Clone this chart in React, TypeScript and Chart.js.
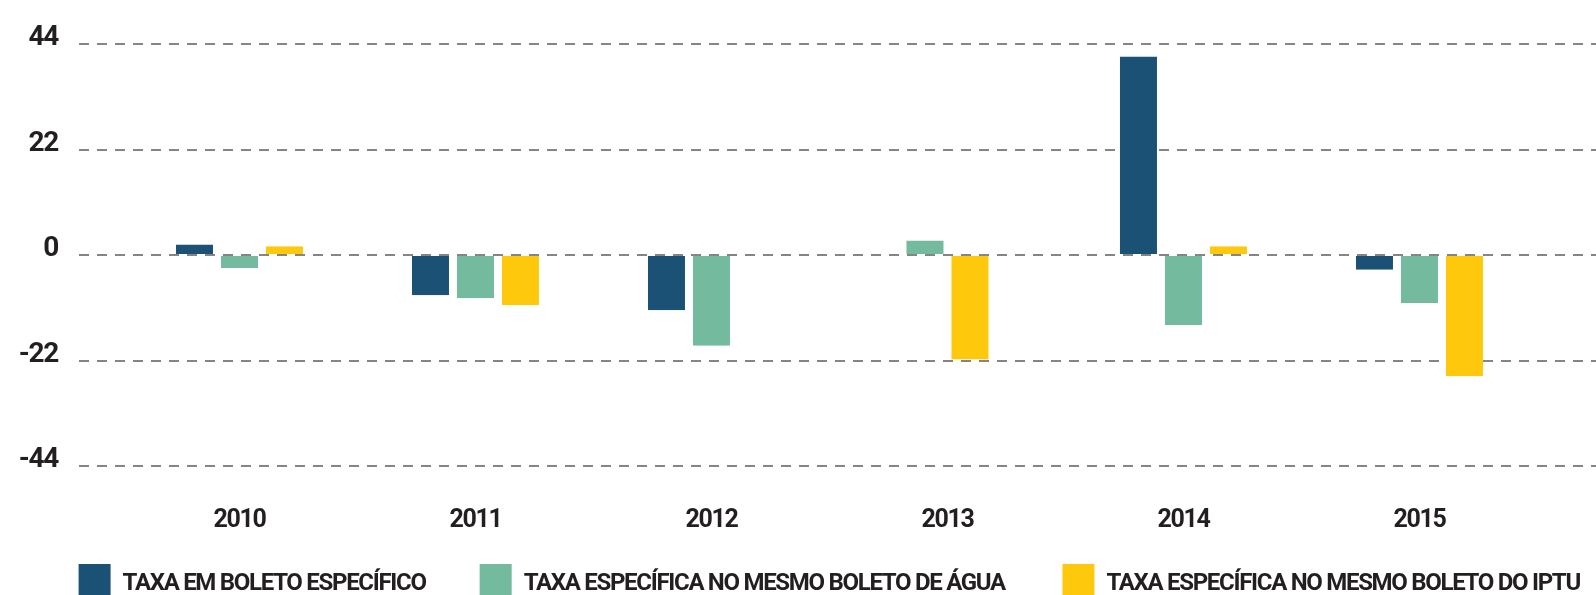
import React, { useEffect, useRef } from "react";
import { Chart, registerables } from "chart.js";

Chart.register(...registerables);

const years = [2010, 2011, 2012, 2013, 2014, 2015];
const boletoEspecifico = [2.2, -8.4, -11.5, null, 41.4, -3.1];
const boletoAgua = [-2.7, -9.0, -18.9, 3.0, -14.6, -10.0];
const boletoIptu = [1.8, -10.5, 0, -21.8, 1.8, -25.3];
const seriesNames = [
  "TAXA EM BOLETO ESPECÍFICO",
  "TAXA ESPECÍFICA NO MESMO BOLETO DE ÁGUA",
  "TAXA ESPECÍFICA NO MESMO BOLETO DO IPTU",
];
const seriesColors = ["#1a5174", "#73ba9f", "#fec90c"];
const yTickValues = [-44, -22, 0, 22, 44];
const legendGaps = ["\u2003\u2003\u2009", "\u2003\u2003\u2009\u2009", ""];

const SPACING = "-1.3px";
const tightText = {
  id: "tightText",
  beforeUpdate(chart: any) {
    chart.ctx.letterSpacing = SPACING;
  },
  beforeLayout(chart: any) {
    chart.ctx.letterSpacing = SPACING;
  },
  afterLayout(chart: any) {
    if (chart.legend) {
      chart.legend.left = 74.6;
      chart.legend.right = chart.width + 300;
    }
  },
  beforeDraw(chart: any) {
    chart.ctx.letterSpacing = SPACING;
  },
};

export default function App() {
  const canvasRef = useRef<HTMLCanvasElement | null>(null);

  useEffect(() => {
    document.body.style.margin = "0";
    document.documentElement.style.overflow = "hidden";
    const canvas = canvasRef.current;
    if (!canvas) return;
    const textColor = "#231f20";
    const gridColor = "#858585";
    const barBorder = { left: 4, right: 4, top: 0, bottom: 0 };
    const seriesData = [boletoEspecifico, boletoAgua, boletoIptu];
    const fontFamily = "Roboto, 'Liberation Sans', sans-serif";

    const chart = new Chart(canvas, {
      type: "bar",
      plugins: [tightText],
      data: {
        labels: years,
        datasets: seriesData.map((d, i) => ({
          label: seriesNames[i],
          data: d,
          backgroundColor: seriesColors[i],
          borderColor: "rgba(0,0,0,0)",
          borderWidth: barBorder,
          borderSkipped: false,
          inflateAmount: 0,
          barThickness: 45,
          skipNull: true,
        })),
      },
      options: {
        responsive: true,
        maintainAspectRatio: false,
        animation: false,
        layout: { padding: { top: 44, left: 0, right: 0, bottom: 0 } },
        plugins: {
          tooltip: { enabled: false },
          legend: {
            position: "bottom",
            align: "start",
            labels: {
              boxWidth: 32,
              boxHeight: 40,
              padding: 4,
              color: textColor,
              font: { family: fontFamily, size: 24, weight: "bold" },
              generateLabels: (ch: any) => {
                const items = (Chart.defaults.plugins.legend.labels as any).generateLabels(ch);
                return items.map((it: any, i: number) => ({
                  ...it,
                  text: it.text + (legendGaps[i] || ""),
                  lineWidth: 0,
                }));
              },
            },
          },
        },
        scales: {
          x: {
            type: "linear",
            offset: false,
            min: 2009.32,
            max: 2015.748,
            grid: { display: false, offset: false },
            border: { display: false },
            afterBuildTicks: (s: any) => {
              s.ticks = years.map((v) => ({ value: v }));
            },
            afterFit: (s: any) => {
              s.height = 94;
            },
            ticks: {
              autoSkip: false,
              maxRotation: 0,
              padding: 32,
              color: textColor,
              font: { family: fontFamily, size: 25, weight: "bold" },
              callback: (v: any) => String(v),
            },
          },
          y: {
            min: -44,
            max: 44,
            afterBuildTicks: (s: any) => {
              s.ticks = yTickValues.map((v) => ({ value: v }));
            },
            afterFit: (s: any) => {
              s.width = 79;
            },
            grid: { color: gridColor, lineWidth: 2, drawTicks: false },
            border: { display: false, dash: [10, 8] },
            ticks: {
              padding: 21,
              labelOffset: -6,
              color: textColor,
              font: { family: fontFamily, size: 28, weight: "bold" },
              callback: (v: any) => String(v),
            },
          },
        },
      } as any,
    });
    return () => chart.destroy();
  }, []);

  return (
    <div style={{ width: 1596, height: 595, overflow: "hidden", position: "relative" }}>
      <div style={{ width: 1596, height: 614, position: "absolute", left: 0, top: 0 }}>
        <canvas ref={canvasRef} />
      </div>
    </div>
  );
}
